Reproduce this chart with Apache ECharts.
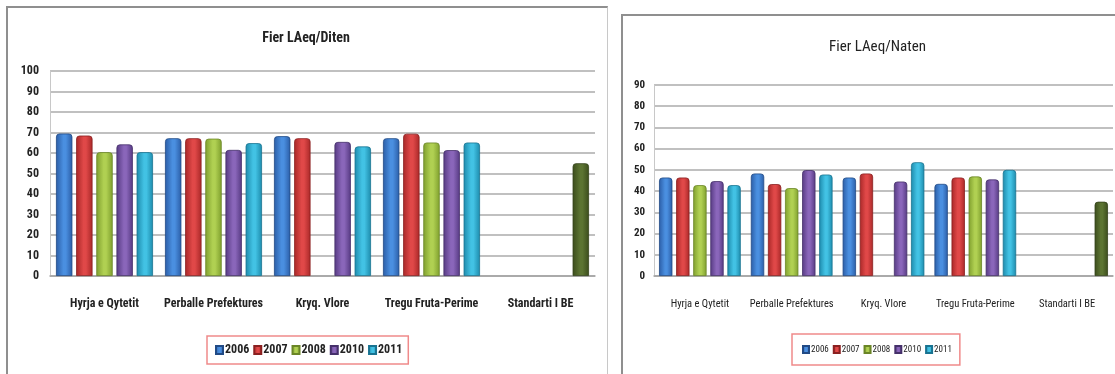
<!DOCTYPE html>
<html>
<head>
<meta charset="utf-8">
<script src="https://cdn.jsdelivr.net/npm/echarts@6/dist/echarts.min.js"></script>
<style>
  html, body { margin: 0; padding: 0; background: #ffffff; }
  body { width: 1115px; height: 374px; position: relative; overflow: hidden; }
  #frameL { position: absolute; left: 6px; top: 6px; width: 602px; height: 380px; border: 2px solid #8f8f8f; border-right: 1px solid #c8c8c8; box-sizing: border-box; }
  #frameR { position: absolute; left: 621px; top: 14px; width: 520px; height: 380px; border: 2px solid #8f8f8f; box-sizing: border-box; }
  #left { position: absolute; left: 0; top: 0; width: 612px; height: 374px; }
  #right { position: absolute; left: 612px; top: 0; width: 503px; height: 374px; }
</style>
</head>
<body>
<div id="frameL"></div>
<div id="frameR"></div>
<div id="left"></div>
<div id="right"></div>
<script>
// ---- data ----
const categories = ['Hyrja e Qytetit', 'Perballe Prefektures', 'Kryq. Vlore', 'Tregu Fruta-Perime', 'Standarti I BE'];
const years = ['2006', '2007', '2008', '2010', '2011'];

// Fier LAeq/Diten (day)
const day2006 = [69.5, 67.2, 68.2, 67.2];
const day2007 = [68.5, 67.2, 67.2, 69.4];
const day2008 = [60.4, 67.0, null, 65.1];
const day2010 = [64.2, 61.5, 65.4, 61.4];
const day2011 = [60.4, 64.8, 63.2, 65.1];
const dayStandard = 55;

// Fier LAeq/Naten (night)
const night2006 = [46.4, 48.3, 46.4, 43.4];
const night2007 = [46.4, 43.3, 48.3, 46.4];
const night2008 = [42.8, 41.4, null, 46.9];
const night2010 = [44.7, 49.9, 44.5, 45.5];
const night2011 = [42.8, 47.8, 53.6, 50.0];
const nightStandard = 35;

const dayTicks = [0, 100, 10];
const nightTicks = [0, 90, 10];

// ---- styles ----
const FONT = "'Liberation Sans Narrow', 'Arial Narrow', 'Roboto Condensed', 'Liberation Sans', sans-serif";
function grad(edge, mid) {
  return new echarts.graphic.LinearGradient(0, 0, 1, 0, [
    { offset: 0, color: edge },
    { offset: 0.45, color: mid },
    { offset: 0.6, color: mid },
    { offset: 1, color: edge }
  ]);
}
const palette = [
  { edge: '#2b5da6', mid: '#4a8fe0', border: '#214a85' },
  { edge: '#a82828', mid: '#e04848', border: '#8a2020' },
  { edge: '#7f9f2e', mid: '#b0d052', border: '#6a8526' },
  { edge: '#563a82', mid: '#8a66ba', border: '#45306a' },
  { edge: '#1d8aab', mid: '#42c2e4', border: '#187391' }
];
const standardStyle = { edge: '#3b4c1c', mid: '#5c7432', border: '#33421a' };

function buildOption(cfg) {
  const seriesData = cfg.values.map(function (arr, i) {
    const d = arr.slice();
    if (i === cfg.values.length - 1) {
      d.push({
        value: cfg.standard,
        itemStyle: { color: grad(standardStyle.edge, standardStyle.mid), borderColor: standardStyle.border }
      });
    } else {
      d.push(null);
    }
    return d;
  });
  return {
    animation: false,
    title: cfg.titleOpt,
    graphic: cfg.graphic || [],
    legend: {
      data: years,
      top: cfg.legendTop,
      left: cfg.legendLeft,
      orient: 'horizontal',
      borderColor: '#f08a8a',
      borderWidth: 1.5,
      padding: cfg.legendPadding,
      itemWidth: cfg.iconW,
      itemHeight: cfg.iconH,
      itemGap: cfg.legendGap,
      icon: 'rect',
      selectedMode: false,
      textStyle: {
        fontFamily: FONT, fontSize: cfg.legendFont, fontWeight: cfg.legendWeight,
        color: '#222', padding: [0, 0, 0, -3]
      }
    },
    grid: cfg.grid,
    xAxis: {
      type: 'category',
      data: categories,
      axisLine: { show: true, lineStyle: { color: '#a3a3a3', width: 1.5 } },
      axisTick: { show: false },
      axisLabel: {
        fontFamily: FONT, fontSize: cfg.catFont, fontWeight: cfg.catWeight,
        color: '#222', margin: cfg.catMargin, interval: 0
      }
    },
    yAxis: {
      type: 'value',
      min: cfg.ticks[0], max: cfg.ticks[1], interval: cfg.ticks[2],
      axisLine: { show: true, lineStyle: { color: '#c8c8c8', width: 1 } },
      axisTick: { show: false },
      splitLine: { lineStyle: { color: '#ababab', width: 1.5 } },
      axisLabel: {
        fontFamily: FONT, fontSize: cfg.yFont, fontWeight: 'bold',
        color: '#222', margin: cfg.yMargin
      }
    },
    series: years.map(function (y, i) {
      return {
        name: y,
        type: 'bar',
        data: seriesData[i],
        barGap: cfg.barGap,
        barCategoryGap: cfg.barCategoryGap,
        itemStyle: {
          color: grad(palette[i].edge, palette[i].mid),
          borderColor: palette[i].border,
          borderWidth: 0.8,
          borderRadius: [3, 3, 0, 0]
        }
      };
    })
  };
}

const left = echarts.init(document.getElementById('left'), null, { renderer: 'canvas' });
left.setOption(buildOption({
  values: [day2006, day2007, day2008, day2010, day2011],
  standard: dayStandard,
  ticks: dayTicks,
  titleOpt: {
    text: 'Fier LAeq/Diten', left: 'center', top: 26,
    textStyle: { fontFamily: FONT, fontSize: 14, fontWeight: 'bold', color: '#222' }
  },
  grid: { left: 50, right: 17, top: 71, bottom: 98 },
  barGap: '23%', barCategoryGap: '11%',
  legendTop: 336, legendLeft: 207, legendPadding: [8, 6, 8, 8],
  iconW: 7, iconH: 8, legendGap: 4, legendFont: 12, legendWeight: 'bold',
  catFont: 12, catWeight: 'bold', catMargin: 22,
  yFont: 12, yMargin: 11
}));

const right = echarts.init(document.getElementById('right'), null, { renderer: 'canvas' });
right.setOption(buildOption({
  values: [night2006, night2007, night2008, night2010, night2011],
  standard: nightStandard,
  ticks: nightTicks,
  titleOpt: { show: false },
  graphic: [{
    type: 'text', left: 263 - 46, top: 40,
    style: { text: 'Fier LAeq/Naten', fontFamily: FONT, fontSize: 15, fill: '#222', fontWeight: 'normal' }
  }],
  grid: { left: 42, right: 2, top: 85, bottom: 98 },
  barGap: '28%', barCategoryGap: '11%',
  legendTop: 334, legendLeft: 180, legendPadding: [11, 8, 11, 10],
  iconW: 6, iconH: 7, legendGap: 4, legendFont: 9, legendWeight: 'normal',
  catFont: 10.5, catWeight: 'normal', catMargin: 23,
  yFont: 11, yMargin: 9
}));
</script>
</body>
</html>
